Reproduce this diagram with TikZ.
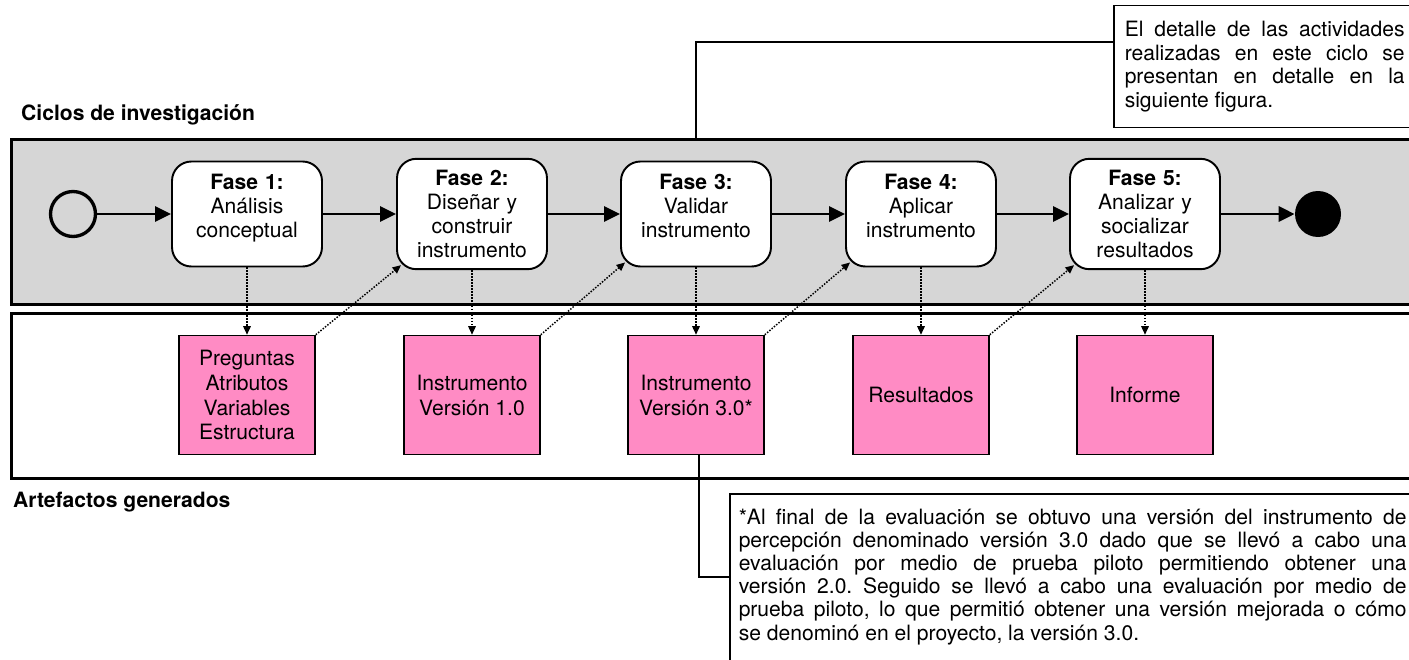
\documentclass[tikz,border=0pt]{standalone}
\usepackage{fontspec}
\setmainfont{TeX Gyre Heros}
\usetikzlibrary{positioning,calc,arrows.meta}
\definecolor{ciclogris}{RGB}{214,214,214}
\definecolor{artrosa}{RGB}{255,139,196}
\hyphenpenalty=10000
\frenchspacing

\begin{document}
\begin{tikzpicture}[x=0.02cm,y=-0.02cm,
  carril/.style={draw, line width=1.7pt, anchor=north west, minimum width=28.6cm, minimum height=3.3cm, inner sep=0pt},
  fase/.style={draw, line width=1.1pt, fill=white, rounded corners=11pt, minimum width=3cm, minimum height=2.1cm,
    text width=2.9cm, inner xsep=0.05cm, inner ysep=0.23cm, align=center, font=\fontsize{12}{13.6}\selectfont},
  artefacto/.style={draw, line width=0.9pt, fill=artrosa, minimum width=2.72cm, minimum height=2.38cm,
    align=center, font=\fontsize{12}{14.2}\selectfont},
  nota/.style={draw, line width=0.85pt, fill=white, anchor=north west, align=justify},
  titulo/.style={anchor=west, font=\fontsize{12}{14}\selectfont\bfseries},
  flujo/.style={line width=1.7pt, -{Triangle[length=0.32cm,width=0.3cm]}},
  traza/.style={line width=0.85pt, dash pattern=on 0.85pt off 0.85pt, -{Triangle[length=0.17cm,width=0.15cm]}}]
\useasboundingbox (0,0) rectangle (1409,659);
\clip (0,0) rectangle (1409,659);

\node[titulo] (titciclos) at (15,115) {Ciclos de investigación};
\node[titulo] (titartefactos) at (7,502) {Artefactos generados};
\node[carril, fill=ciclogris] (ciclos) at (10,138) {};
\node[carril] (artefactos) at (10,312) {};

\node[circle, draw, line width=1.9pt, minimum size=0.9cm, inner sep=0pt] (inicio) at (73,214) {};
\node[circle, fill=black, minimum size=0.92cm, inner sep=0pt] (fin) at (1318,214) {};

\foreach \i/\x/\pad/\txt in {%
  1/247/0.33cm/{Análisis\\conceptual},%
  2/472/0cm/{Diseñar y\\construir\\instrumento},%
  3/696/0.33cm/{Validar\\instrumento},%
  4/921/0.33cm/{Aplicar\\instrumento},%
  5/1145/0cm/{Analizar y\\socializar\\resultados}%
}{
  \node[fase] (f\i) at (\x,214) {\textbf{Fase \i:}\\\txt\rule[-\pad]{0pt}{0pt}};
}
\foreach \i/\x/\txt in {%
  1/247/{Preguntas\\Atributos\\Variables\\Estructura},%
  2/472/{Instrumento\\Versión 1.0},%
  3/696/{Instrumento\\Versión 3.0*},%
  4/921/{Resultados},%
  5/1145/{Informe}%
}{
  \node[artefacto] (a\i) at (\x,395) {\txt};
}

\draw[flujo] (inicio) -- (f1);
\foreach \i/\j in {1/2,2/3,3/4,4/5}{
  \draw[flujo] (f\i) -- (f\j);
  \draw[traza] (a\i.north east) -- ([xshift=0.1cm,yshift=0.1cm]f\j.south west);
}
\draw[flujo] (f5) -- (fin);
\foreach \i in {1,...,5}
  \draw[traza] (f\i.south) -- (a\i.north);

\node[nota, text width=5.6cm, inner xsep=0.22cm, inner ysep=0.3cm, font=\fontsize{12}{13.6}\selectfont] (notaciclo) at (1113,5)
  {El detalle de las actividades\linebreak realizadas en este ciclo se\linebreak presentan en detalle en la\linebreak siguiente figura.};
\node[nota, text width=13.36cm, inner xsep=0.18cm, inner ysep=0.3cm, font=\fontsize{12}{13.2}\selectfont] (notaversion) at (729,493)
  {*Al final de la evaluación se obtuvo una versión del instrumento de\linebreak
   percepción denominado versión 3.0 dado que se llevó a cabo una\linebreak
   evaluación por medio de prueba piloto permitiendo obtener una\linebreak
   versión 2.0. Seguido se llevó a cabo una evaluación por medio de\linebreak
   prueba piloto, lo que permitió obtener una versión mejorada o cómo\linebreak
   se denominó en el proyecto, la versión 3.0.\rule[-1cm]{0pt}{0pt}};

\coordinate (codociclo) at (696,42);
\draw[line width=0.85pt] (ciclos.north -| f3) -- (codociclo) -- (codociclo -| notaciclo.west);
\coordinate (codoversion) at (699,577);
\draw[line width=0.85pt] (a3.south -| codoversion) -- (codoversion) -- (codoversion -| notaversion.west);
\end{tikzpicture}
\end{document}
